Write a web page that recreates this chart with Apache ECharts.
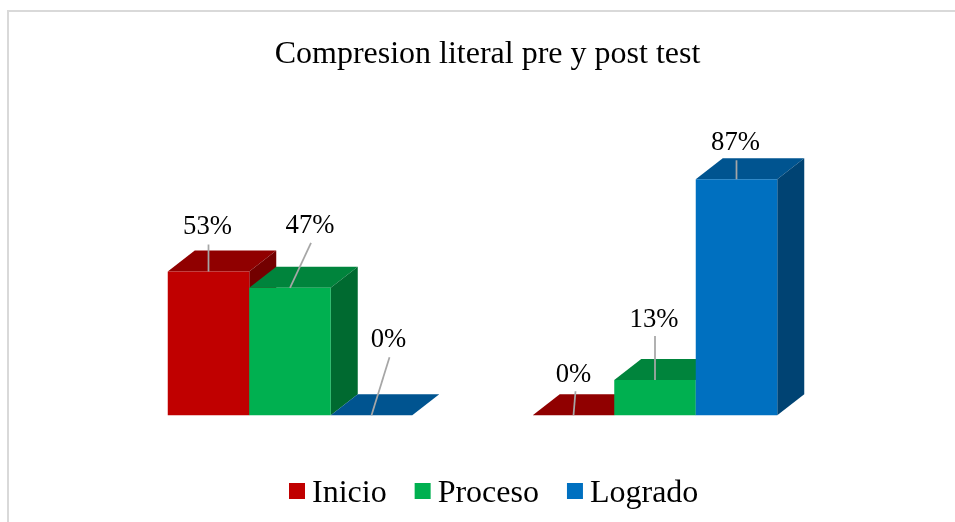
<!DOCTYPE html>
<html>
<head>
<meta charset="utf-8">
<style>html,body{margin:0;padding:0;background:#fff}#c{width:955px;height:522px}</style>
<script src="https://cdn.jsdelivr.net/npm/echarts@6/dist/echarts.min.js"></script>
</head>
<body>
<div id="c"></div>
<script>
var titleText = 'Compresion literal pre y post test';
var categories = ['Pre test', 'Post test'];
var seriesNames = ['Inicio', 'Proceso', 'Logrado'];
var inicio = [53, 0];
var proceso = [47, 13];
var logrado = [0, 87];

var frontColors = ['#C00000', '#00B050', '#0070C0'];
var topColors = ['#900000', '#00843C', '#005490'];
var sideColors = ['#730000', '#006A30', '#004373'];

var depthX = 27, depthY = 21;
var barShare = 81.5 / 365;
var font = '"Liberation Serif","Times New Roman",serif';

// Leader-line end and label centre, as offsets from the bar's front-top centre.
var labelOffsets = [
  [[[0, -27], [-1, -45]], [[2, -24], [0, -40]]],
  [[[21, -45], [20, -62]], [[0, -44], [-1, -60]]],
  [[[18, -58], [17, -75]], [[0, -19], [-1, -36]]]
];

function makeRenderItem(si) {
  return function (params, api) {
    var cat = api.value(0), val = api.value(1);
    var band = api.size([1, 0])[0];
    var w = band * barShare;
    var top = api.coord([cat, val]);
    var base = api.coord([cat, 0]);
    var cx = top[0] + (si - 1) * w;
    var x0 = cx - w / 2, x1 = cx + w / 2, yT = top[1], yB = base[1];
    var off = labelOffsets[si][cat];
    return {
      type: 'group',
      children: [
        { type: 'polygon', shape: { points: [[x0, yT], [x0 + depthX, yT - depthY], [x1 + depthX, yT - depthY], [x1, yT]] }, style: { fill: topColors[si] } },
        { type: 'polygon', shape: { points: [[x1, yT], [x1 + depthX, yT - depthY], [x1 + depthX, yB - depthY], [x1, yB]] }, style: { fill: sideColors[si] } },
        { type: 'rect', shape: { x: x0, y: yT, width: w, height: yB - yT }, style: { fill: frontColors[si] } },
        { type: 'line', shape: { x1: cx, y1: yT, x2: cx + off[0][0], y2: yT + off[0][1] }, style: { stroke: '#A6A6A6', lineWidth: 1.75 } },
        { type: 'text', style: { x: cx + off[1][0], y: yT + off[1][1], text: val + '%', fill: '#000', font: '26.67px ' + font, textAlign: 'center', textVerticalAlign: 'middle' } }
      ]
    };
  };
}

function pairs(values) {
  return values.map(function (v, i) { return [i, v]; });
}

var seriesValues = [inicio, proceso, logrado];
var chart = echarts.init(document.getElementById('c'), null, { renderer: 'canvas' });
chart.setOption({
  animation: false,
  backgroundColor: '#fff',
  title: {
    text: titleText,
    left: 482.5,
    top: 31,
    textAlign: 'center',
    textStyle: { fontFamily: font, fontWeight: 'normal', fontSize: 32, color: '#000', lineHeight: 38 }
  },
  legend: {
    left: 289,
    top: 472,
    padding: 0,
    itemWidth: 16,
    itemHeight: 16,
    itemGap: 28,
    icon: 'rect',
    data: seriesNames,
    formatter: function (name) { return '{t|' + name + '}'; },
    textStyle: {
      rich: { t: { fontFamily: font, fontSize: 32, color: '#000', lineHeight: 36, padding: [6, 0, 0, 2] } }
    }
  },
  grid: { left: 107.5, width: 730, top: 144, height: 271.3 },
  xAxis: { type: 'category', data: categories, show: false },
  yAxis: { type: 'value', min: 0, max: 100, show: false },
  graphic: [
    { type: 'line', shape: { x1: 7, y1: 11, x2: 955, y2: 11 }, style: { stroke: '#D9D9D9', lineWidth: 2 } },
    { type: 'line', shape: { x1: 8, y1: 10, x2: 8, y2: 522 }, style: { stroke: '#D9D9D9', lineWidth: 2 } }
  ],
  series: seriesNames.map(function (name, si) {
    return {
      type: 'custom',
      name: name,
      coordinateSystem: 'cartesian2d',
      clip: false,
      itemStyle: { color: frontColors[si] },
      encode: { x: 0, y: 1 },
      data: pairs(seriesValues[si]),
      renderItem: makeRenderItem(si)
    };
  })
});
</script>
</body>
</html>
